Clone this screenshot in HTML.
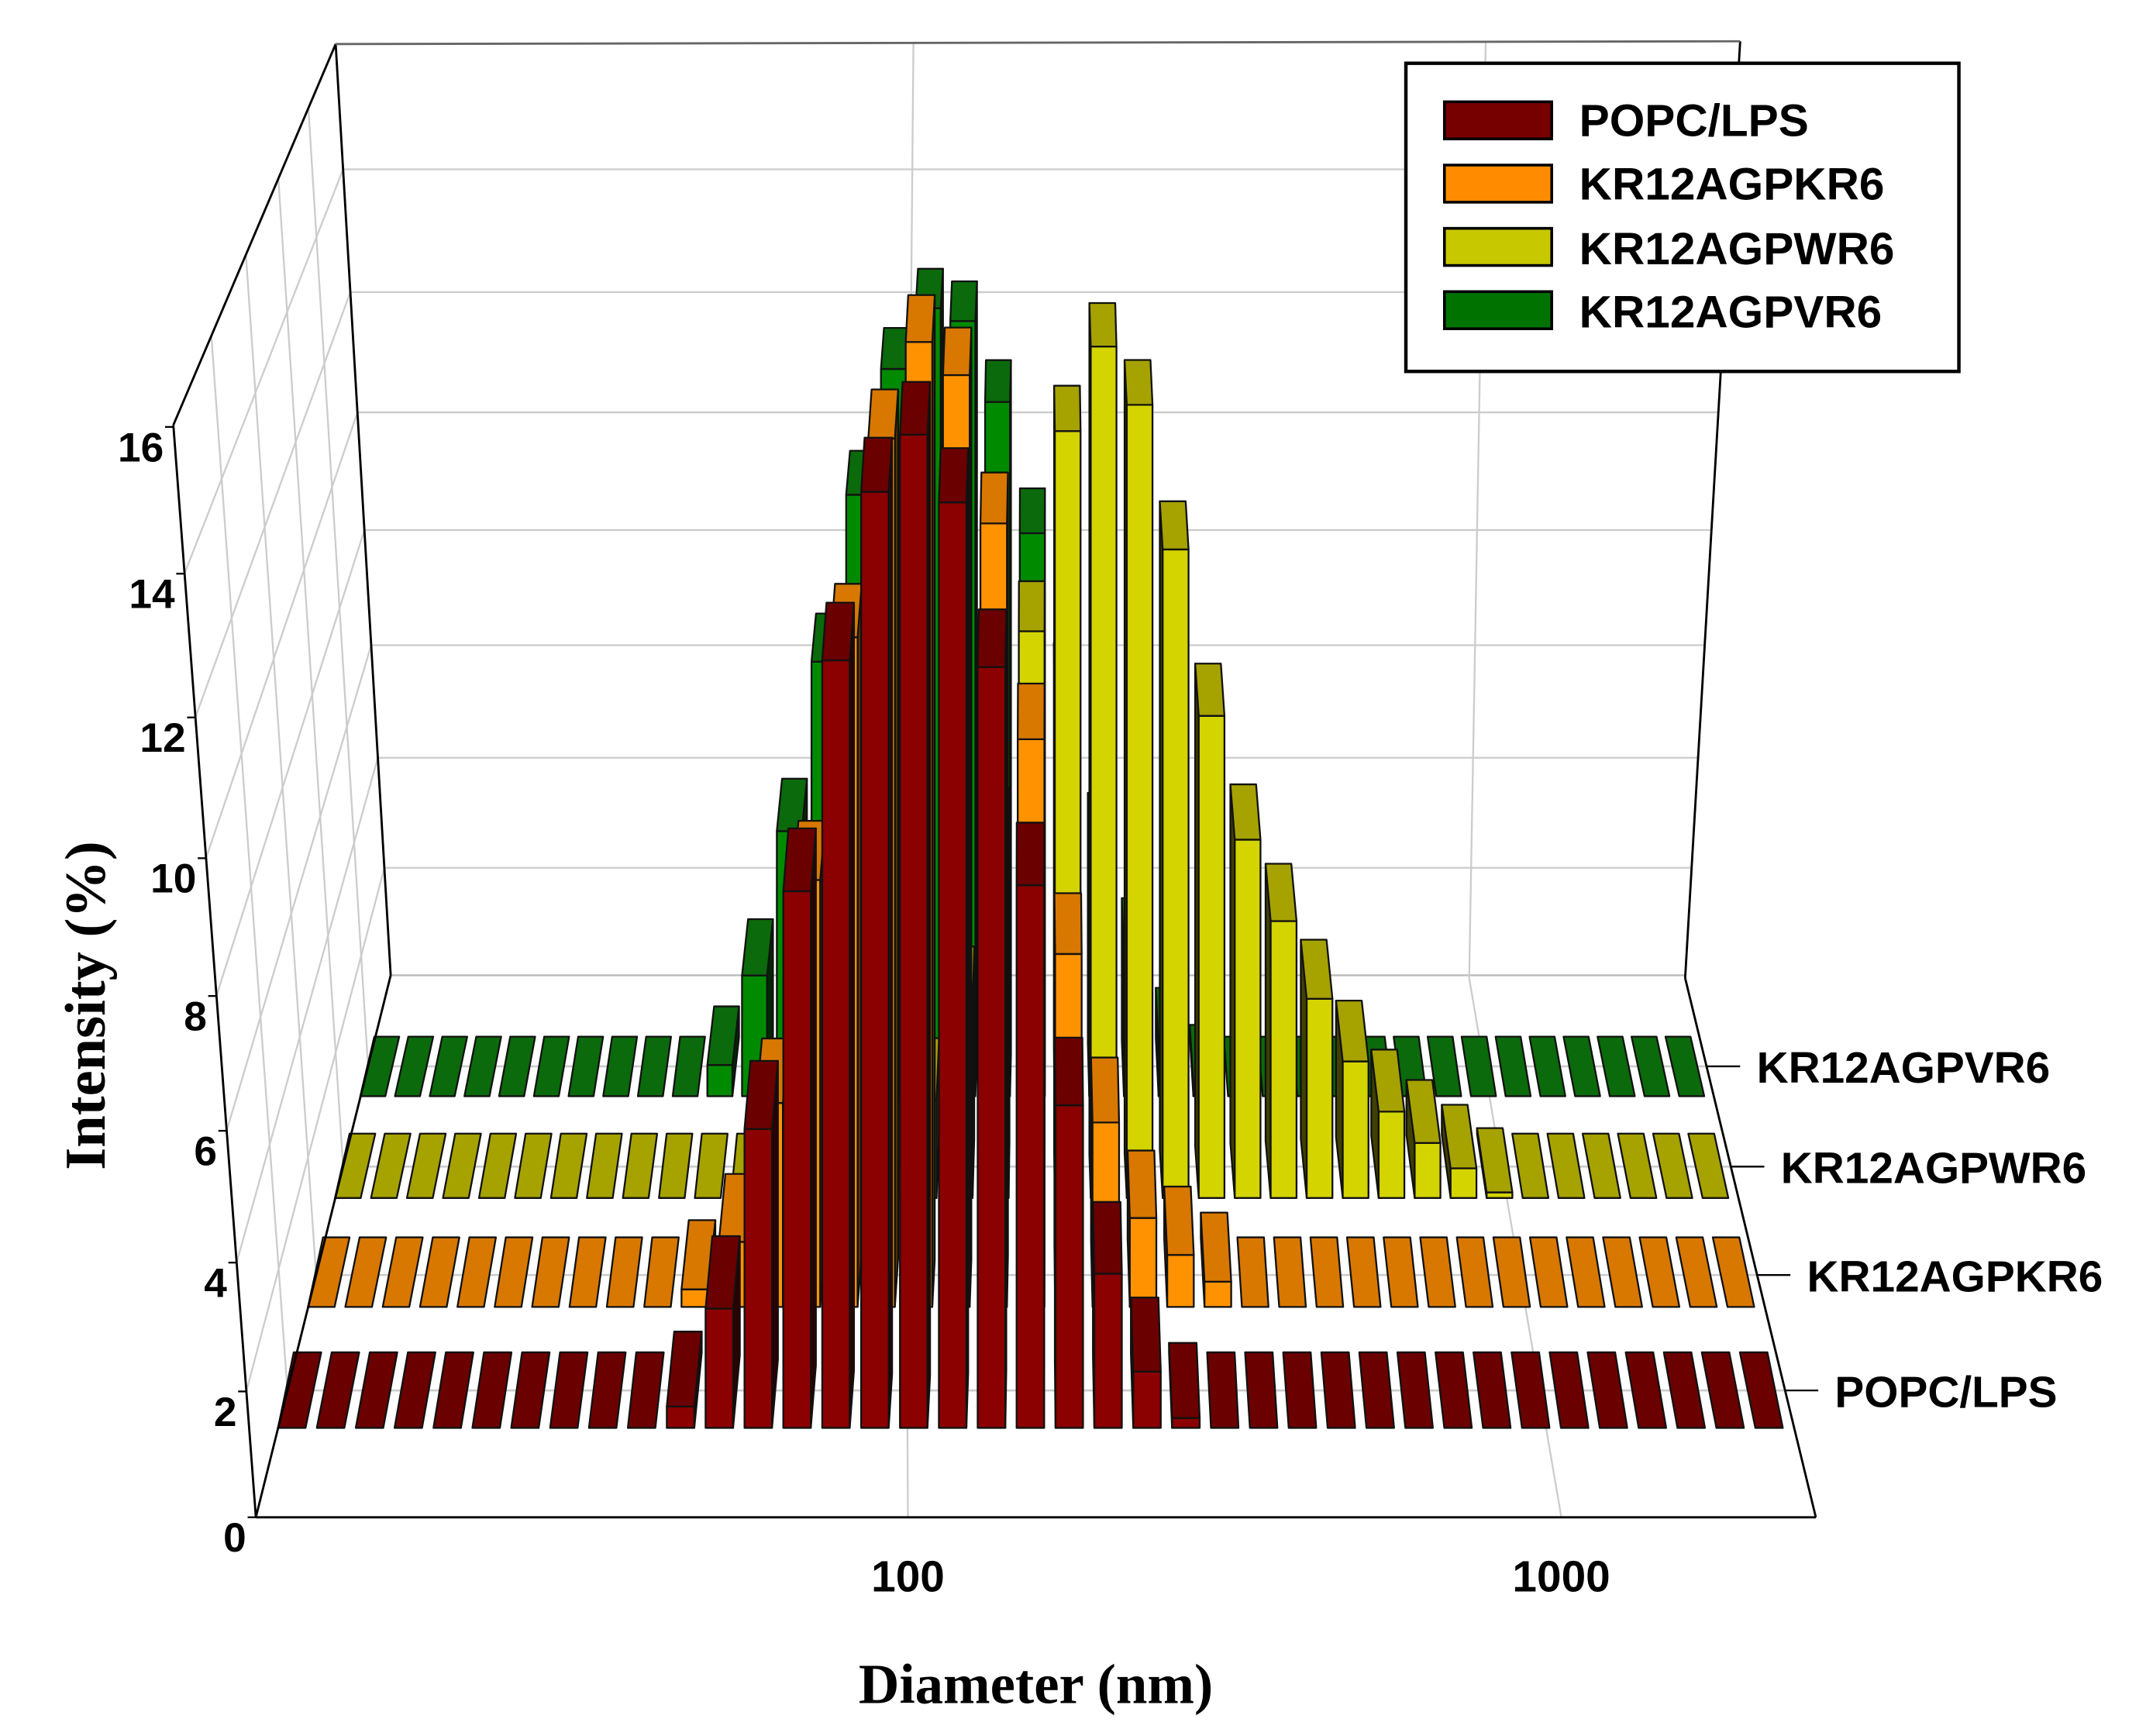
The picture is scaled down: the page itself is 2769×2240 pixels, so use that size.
<!DOCTYPE html>
<html>
<head>
<meta charset="utf-8">
<style>
  html,body{margin:0;padding:0;background:#fff;}
  #chart{display:block;width:2769px;height:2240px;}
  text{font-family:"Liberation Sans",Arial,sans-serif;font-weight:bold;fill:#000;}
  .serif{font-family:"Liberation Serif","Times New Roman",serif;font-weight:bold;}
</style>
</head>
<body>
<svg id="chart" xmlns="http://www.w3.org/2000/svg" viewBox="0 0 1560 1262" width="2769" height="2240">
  <g id="grid"></g>
  <g id="bars"></g>
  <g id="frame"></g>
  <g id="labels"></g>
  <text class="serif" x="753" y="1238" font-size="41" text-anchor="middle">Diameter (nm)</text>
  <text class="serif" x="0" y="0" font-size="42" text-anchor="middle" transform="translate(76,731) rotate(-90)">Intensity (%)</text>
  <g>
    <rect x="1022" y="46" width="402" height="224" fill="#fff" stroke="#000" stroke-width="2.5"/>
    <rect x="1050" y="74" width="78" height="27" fill="#760000" stroke="#000" stroke-width="2"/>
    <text x="1148" y="99" font-size="33">POPC/LPS</text>
    <rect x="1050" y="120" width="78" height="27" fill="#ff8c00" stroke="#000" stroke-width="2"/>
    <text x="1148" y="145" font-size="33">KR12AGPKR6</text>
    <rect x="1050" y="166" width="78" height="27" fill="#c8c800" stroke="#000" stroke-width="2"/>
    <text x="1148" y="192" font-size="33">KR12AGPWR6</text>
    <text x="1148" y="238" font-size="33">KR12AGPVR6</text>
    <rect x="1050" y="212" width="78" height="27" fill="#007200" stroke="#000" stroke-width="2"/>
  </g>
</svg>
<script>
// ---- data ----
const seriesNames = ["POPC/LPS", "KR12AGPKR6", "KR12AGPWR6", "KR12AGPVR6"];
const xTickLabels = ["100", "1000"];
const yTickValues = [0, 2, 4, 6, 8, 10, 12, 14, 16];
const popcValues = [0,0,0,0,0,0,0,0,0,0, 0.35,1.94,4.78,8.41,11.8,14.2,15.0,14.05,11.7,8.5, 5.15,2.5,0.92,0.16,0,0,0,0,0,0, 0,0,0,0,0,0,0,0,0];
const kr6Values  = [0,0,0,0,0,0,0,0,0,0, 0.3,1.1,3.4,6.97,10.7,13.65,15.05,14.57,12.4,9.15, 5.8,3.08,1.5,0.88,0.43,0,0,0,0,0, 0,0,0,0,0,0,0,0,0];
const wr6Values  = [0,0,0,0,0,0,0,0,0,0, 0,0,0,0,0,0.6,1.7,3.3,6.0,9.4, 12.5,13.78,12.9,10.68,8.06,6.06,4.72,3.42,2.36,1.5, 0.96,0.52,0.1,0,0,0,0,0,0];
const vr6Values  = [0,0,0,0,0,0,0,0,0,0, 0.56,2.15,4.65,7.5,10.22,12.22,13.17,12.97,11.7,9.6, 7.0,4.4,2.53,0.9,0.22,0,0,0,0,0, 0,0,0,0,0,0,0,0,0];

// ---- projection helpers ----
const NS = "http://www.w3.org/2000/svg";
function mk(tag, parent) { const e = document.createElementNS(NS, tag); parent.appendChild(e); return e; }
function hq(v) { return v + 0.006 * v * v; }
function rowDepth(r) { return [0.165, 0.388, 0.589, 0.777][r]; }
function baseY(t) { return 1103 - 394 * t; }
function scaleAt(t) { return 45.2 - 6.3 * t; }
function floorL(t) { return 186 + 98 * t; }
function floorR(t) { return 1320 - 95 * t; }
function binX(t, i, n) { const L = floorL(t), R = floorR(t); return L + (R - L) / n * (i + 0.35); }
function wallLeftFront(v) { const k = hq(v) / hq(16); return [186 - 60 * k, 1103 - 45.2 * hq(v)]; }
function backLeftAtY(y) { return 284 + (y - 709) * (40 / 677); }
function backRightAtY(y) { return 1225 - (y - 711) * (40 / 681); }
function backY(v) { return 709 - 677 * hq(v) / hq(16); }

const grid = document.getElementById('grid');
const bars = document.getElementById('bars');
const frame = document.getElementById('frame');
const labels = document.getElementById('labels');

function line(parent, x1, y1, x2, y2, color, w) {
  const l = mk('line', parent);
  l.setAttribute('x1', x1); l.setAttribute('y1', y1);
  l.setAttribute('x2', x2); l.setAttribute('y2', y2);
  l.setAttribute('stroke', color); l.setAttribute('stroke-width', w);
  return l;
}

// ---- back wall gridlines ----
for (const v of yTickValues) {
  if (v === 16) continue;
  const y = backY(v);
  const g = line(grid, backLeftAtY(y), y, backRightAtY(y), y, v === 0 ? '#bbbbbb' : '#cccccc', 1.3);
  
  
}
let bv = line(grid, 658, 711, 664, 31, '#cccccc', 1.3);


bv = line(grid, 1068, 711, 1080, 31, '#cccccc', 1.3);


let fv = line(grid, 660, 1103, 658, 711, '#cccccc', 1.3);


fv = line(grid, 1135, 1103, 1068, 711, '#cccccc', 1.3);



for (const v of yTickValues) {
  if (v === 0 || v === 16) continue;
  const f = wallLeftFront(v);
  const by = backY(v);
  const lw = line(grid, f[0], f[1], backLeftAtY(by), by, '#cccccc', 1.3);
  
  
}
const gridDepths = [0.234, 0.447, 0.647, 0.832];
seriesNames.forEach((name, r) => {
  const t = gridDepths[r];
  const y = 1103 - 394 * t;
  const xl = floorL(t), xr = floorR(t);
  const fl = line(grid, xl, y, xr, y, '#cccccc', 1.5);
  
  
  const wl = line(grid, xl, y, 126 + 118 * t, 309 - 277 * t, '#cccccc', 1.3);
  
  
  const tk = line(frame, xr, y, xr + 24, y, '#000', 1.3);
  
  
  const tx = mk('text', labels);
  tx.setAttribute('x', xr + 36); tx.setAttribute('y', y + 12);
  tx.setAttribute('font-size', '32');
  tx.textContent = name;
  
  
});

// ---- bars ----
const seriesValues = [popcValues, kr6Values, wr6Values, vr6Values];
const frontColors = ['#8b0000', '#ff9200', '#d4d400', '#008a00'];
const topColors   = ['#6a0000', '#d87800', '#a6a200', '#0b6a0b'];
const sideColors  = ['#2a0000', '#5a3000', '#404000', '#002800'];

function poly(parent, pts, fill) {
  const p = mk('polygon', parent);
  p.setAttribute('points', pts.map(q => q[0].toFixed(1) + ',' + q[1].toFixed(1)).join(' '));
  p.setAttribute('fill', fill);
  p.setAttribute('stroke', '#111');
  p.setAttribute('stroke-width', '1.3');
  p.setAttribute('stroke-linejoin', 'round');
  return p;
}

for (let r = 3; r >= 0; r--) {
  const vals = seriesValues[r];
  const t = rowDepth(r);
  const yb = baseY(t), s = scaleAt(t), d0 = 58 - 19 * t, w = 20.5 - 3 * t;
  const n = vals.length;
  const rowG = mk('g', bars);
  
  
  for (let i = 0; i < n; i++) {
    const v = vals[i];
    const cx = binX(t, i, n);
    const x0 = cx - w / 2, x1 = cx + w / 2;
    const yt = yb - s * hq(v);
    const d = Math.max(22, d0 - 1.1 * v);
    const ox = (755 - cx) * 0.021;
    const g = mk('g', rowG);
    
    
    if (v > 0.05) {
      let side;
      if (ox > 0) side = poly(g, [[x1, yb], [x1, yt], [x1 + ox, yt - d], [x1 + ox, yb - d]], sideColors[r]);
      else side = poly(g, [[x0, yb], [x0, yt], [x0 + ox, yt - d], [x0 + ox, yb - d]], sideColors[r]);
      
      
      const front = poly(g, [[x0, yb], [x1, yb], [x1, yt], [x0, yt]], frontColors[r]);
      
      
    }
    const top = poly(g, [[x0, yt], [x1, yt], [x1 + ox, yt - d], [x0 + ox, yt - d]], topColors[r]);
    
    
  }
}

// ---- frame ----
const frameSegs = [
  [186, 1103, 126, 309], [126, 309, 244, 32], [244, 32, 284, 709],
  [186, 1103, 284, 709], [186, 1103, 1320, 1103], [1320, 1103, 1225, 711],
  [1225, 711, 1265, 30]
];
frameSegs.forEach(sg => {
  const l = line(frame, sg[0], sg[1], sg[2], sg[3], '#000', 1.6);
  
  
});
const topEdge = line(frame, 244, 32, 1265, 30, '#666', 1.6);



for (const v of yTickValues) {
  const f = wallLeftFront(v);
  const tk = line(frame, f[0], f[1], f[0] - 6, f[1], '#000', 1.3);
  
  
  const tx = mk('text', labels);
  tx.setAttribute('x', f[0] - 7); tx.setAttribute('y', f[1] + 25);
  tx.setAttribute('text-anchor', 'end');
  tx.setAttribute('font-size', '30');
  tx.textContent = String(v);
  
  
}
const xTickPos = [660, 1135];
xTickLabels.forEach((lab, k) => {
  const tx = mk('text', labels);
  tx.setAttribute('x', xTickPos[k]); tx.setAttribute('y', 1157);
  tx.setAttribute('text-anchor', 'middle');
  tx.setAttribute('font-size', '32');
  tx.textContent = lab;
  
  
});
</script>
</body>
</html>
